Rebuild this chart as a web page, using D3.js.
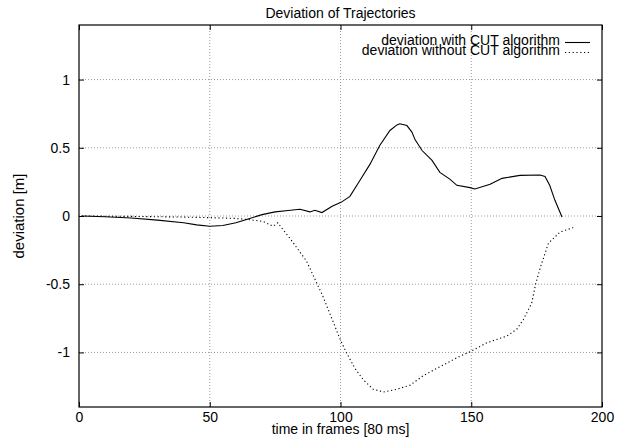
<!DOCTYPE html>
<html lang="en">
<head>
<meta charset="UTF-8">
<title>Deviation of Trajectories</title>
<style>
  body { margin: 0; background: #fff; }
  svg { display: block; font-family: "Liberation Sans", Arial, sans-serif; }
  .grid line { stroke: #999; stroke-dasharray: 1,2; }
</style>
</head>
<body>
<svg id="chart" width="638" height="438"></svg>
<script src="https://d3js.org/d3.v7.min.js"></script>
<script>
// frames, deviation with CUT algorithm
const withX = [1, 10, 20, 30, 40, 45, 50, 55, 60, 65, 70, 75, 80, 84.5, 88.3, 90.2, 92.9, 96.8, 100.2,
  103.6, 107.4, 111.3, 115, 118.9, 121.6, 122.7, 125.4, 127.3, 128.5, 131.2, 135, 138, 141.8, 144.5,
  149.5, 151.4, 157.2, 161.8, 168.6, 176.3, 178.2, 180, 182, 184.7];
const withY = [0, -0.005, -0.015, -0.03, -0.05, -0.065, -0.075, -0.07, -0.05, -0.02, 0.01, 0.03, 0.04, 0.049, 0.03, 0.042, 0.025, 0.071, 0.1,
  0.144, 0.26, 0.38, 0.517, 0.627, 0.668, 0.676, 0.663, 0.615, 0.56, 0.48, 0.407, 0.32, 0.27, 0.225,
  0.208, 0.198, 0.232, 0.276, 0.298, 0.3, 0.29, 0.225, 0.115, -0.007];

// frames, deviation without CUT algorithm
const withoutX = [1, 20, 40, 50, 60, 65.4, 70.4, 74.2, 76, 80.7, 87, 93.3, 100, 102.4, 105.5, 108.7, 112.5,
  116.4, 121.5, 126.6, 131.7, 138, 144.4, 150, 155.9, 163.6, 167.4, 169.9, 173.1, 174.6, 176.3, 179.5, 184, 189];
const withoutY = [0, -0.003, -0.008, -0.012, -0.018, -0.027, -0.04, -0.075, -0.05, -0.165, -0.33, -0.59, -0.91, -1.007, -1.116, -1.2, -1.27,
  -1.29, -1.27, -1.24, -1.17, -1.105, -1.04, -0.99, -0.93, -0.88, -0.83, -0.76, -0.64, -0.5, -0.385, -0.2, -0.117, -0.085];

const xTicks = [0, 50, 100, 150, 200];
const yTicks = [-1, -0.5, 0, 0.5, 1];
const legendLabels = ["deviation with CUT algorithm", "deviation without CUT algorithm"];

const svg = d3.select("#chart");
const plotL = 79, plotR = 602, plotT = 25, plotB = 407;

const x = d3.scaleLinear().domain([0, 200]).range([plotL, plotR]);
const y = d3.scaleLinear().domain([-1.4, 1.4]).range([plotB, plotT]);

// grid
const grid = svg.append("g").attr("class", "grid");
grid.selectAll(".gx").data(xTicks.filter(d => d > 0 && d < 200)).enter().append("line")
  .attr("x1", d => x(d)).attr("x2", d => x(d)).attr("y1", plotT).attr("y2", plotB);
grid.selectAll(".gy").data(yTicks).enter().append("line")
  .attr("x1", plotL).attr("x2", plotR).attr("y1", d => y(d)).attr("y2", d => y(d));

// axes with inward ticks on all four sides
const fmt = d => String(d);
const fs = "14px";
function styleAxis(g) {
  g.select(".domain").remove();
  g.selectAll("line").attr("stroke", "#000");
  g.selectAll("text").attr("font-size", fs).attr("font-family", "Liberation Sans, Arial, sans-serif").attr("fill", "#000");
}
svg.append("g").attr("transform", `translate(0,${plotB})`)
  .call(d3.axisBottom(x).tickValues(xTicks).tickFormat(fmt).tickSizeInner(-5).tickPadding(5))
  .call(styleAxis);
svg.append("g").attr("transform", `translate(0,${plotT})`)
  .call(d3.axisTop(x).tickValues(xTicks).tickFormat("").tickSizeInner(-5))
  .call(styleAxis);
svg.append("g").attr("transform", `translate(${plotL},0)`)
  .call(d3.axisLeft(y).tickValues(yTicks).tickFormat(fmt).tickSizeInner(-5).tickPadding(9))
  .call(styleAxis);
svg.append("g").attr("transform", `translate(${plotR},0)`)
  .call(d3.axisRight(y).tickValues(yTicks).tickFormat("").tickSizeInner(-5))
  .call(styleAxis);

// frame
svg.append("rect").attr("x", plotL).attr("y", plotT).attr("width", plotR - plotL).attr("height", plotB - plotT)
  .attr("fill", "none").attr("stroke", "#000").attr("stroke-width", 1.2);

// lines
const line = d3.line().x(d => x(d[0])).y(d => y(d[1]));
svg.append("path").datum(d3.zip(withX, withY)).attr("d", line)
  .attr("fill", "none").attr("stroke", "#000").attr("stroke-width", 1.1);
svg.append("path").datum(d3.zip(withoutX, withoutY)).attr("d", line)
  .attr("fill", "none").attr("stroke", "#000").attr("stroke-width", 1.1).attr("stroke-dasharray", "1.2,2.6");

// title and labels
svg.append("text").attr("x", (plotL + plotR) / 2).attr("y", 18).attr("text-anchor", "middle")
  .attr("font-size", fs).text("Deviation of Trajectories");
svg.append("text").attr("x", (plotL + plotR) / 2).attr("y", 434).attr("text-anchor", "middle")
  .attr("font-size", fs).text("time in frames [80 ms]");
svg.append("text").attr("transform", `translate(24,${(plotT + plotB) / 2}) rotate(-90)`)
  .attr("text-anchor", "middle").attr("font-size", "15px").text("deviation [m]");

// legend
const legend = svg.append("g");
legendLabels.forEach((lab, i) => {
  const ly = 42.5 + i * 10;
  legend.append("text").attr("x", 560).attr("y", ly + 2.5).attr("text-anchor", "end")
    .attr("font-size", fs).text(lab);
  legend.append("line").attr("x1", 565).attr("x2", 590).attr("y1", ly).attr("y2", ly)
    .attr("stroke", "#000").attr("stroke-width", 1.1)
    .attr("stroke-dasharray", i === 1 ? "1.2,2.6" : null);
});
</script>
</body>
</html>
